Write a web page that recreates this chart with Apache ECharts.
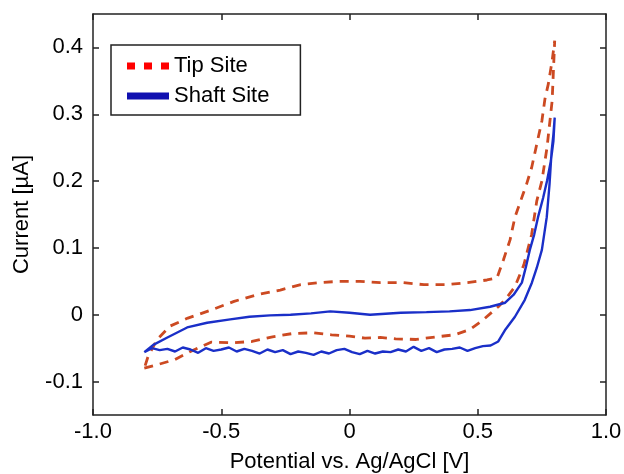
<!DOCTYPE html>
<html>
<head>
<meta charset="utf-8">
<script src="https://cdn.jsdelivr.net/npm/echarts@6/dist/echarts.min.js"></script>
<style>
html,body{margin:0;padding:0;background:#fff;}
#canvas_main{width:624px;height:474px;}
</style>
</head>
<body>
<div id="canvas_main"></div>
<script>
// Tip site (dashed) : forward scan then reverse scan
var tipPotential = [-0.80,-0.76,-0.68,-0.62,-0.54,-0.46,-0.38,-0.30,-0.22,-0.14,-0.07,0.00,0.06,0.12,0.18,0.26,0.34,0.41,0.47,0.52,0.55,0.58,0.61,0.645,0.68,0.71,0.73,0.75,0.77,0.79,0.80,
                    0.79,0.775,0.762,0.75,0.73,0.71,0.69,0.677,0.645,0.626,0.60,0.575,0.536,0.46,0.38,0.29,0.21,0.12,0.04,-0.04,-0.12,-0.19,-0.27,-0.36,-0.45,-0.54,-0.63,-0.70,-0.75,-0.785,-0.80];
var tipCurrent   = [-0.080,-0.076,-0.067,-0.055,-0.041,-0.042,-0.040,-0.033,-0.028,-0.027,-0.030,-0.032,-0.035,-0.034,-0.036,-0.037,-0.033,-0.030,-0.022,-0.008,0.002,0.012,0.024,0.042,0.075,0.120,0.170,0.200,0.250,0.320,0.410,
                    0.380,0.345,0.323,0.290,0.255,0.220,0.195,0.181,0.146,0.112,0.082,0.055,0.052,0.048,0.045,0.045,0.048,0.048,0.050,0.050,0.048,0.045,0.037,0.030,0.020,0.007,-0.005,-0.017,-0.037,-0.062,-0.080];

// Shaft site (solid)
var shaftPotential = [-0.80,-0.77,-0.74,-0.71,-0.68,-0.65,-0.62,-0.59,-0.56,-0.53,-0.50,-0.47,-0.44,-0.41,-0.38,-0.35,-0.32,-0.29,-0.26,-0.23,-0.20,-0.17,-0.14,-0.11,-0.08,-0.05,-0.02,0.01,0.04,0.07,0.10,0.13,0.16,0.19,0.22,0.25,0.28,0.31,0.34,0.37,0.40,0.43,0.46,0.49,0.52,0.55,0.58,0.608,0.645,0.683,0.711,0.73,0.75,0.769,0.78,0.788,0.795,0.80,
                      0.795,0.785,0.77,0.755,0.735,0.72,0.703,0.688,0.672,0.64,0.607,0.548,0.47,0.39,0.30,0.20,0.08,0.00,-0.075,-0.15,-0.23,-0.31,-0.39,-0.465,-0.555,-0.633,-0.71,-0.765,-0.80];
var shaftCurrent   = [-0.056,-0.050,-0.053,-0.051,-0.055,-0.049,-0.052,-0.057,-0.050,-0.054,-0.052,-0.049,-0.055,-0.051,-0.054,-0.058,-0.052,-0.056,-0.053,-0.059,-0.055,-0.057,-0.060,-0.055,-0.058,-0.053,-0.051,-0.056,-0.059,-0.054,-0.058,-0.055,-0.056,-0.052,-0.055,-0.048,-0.054,-0.050,-0.056,-0.052,-0.051,-0.049,-0.054,-0.050,-0.047,-0.046,-0.040,-0.022,-0.003,0.022,0.048,0.070,0.097,0.146,0.196,0.245,0.270,0.295,
                      0.260,0.230,0.200,0.175,0.146,0.120,0.097,0.072,0.048,0.030,0.018,0.012,0.007,0.005,0.004,0.003,0.000,0.003,0.005,0.002,0.000,-0.001,-0.003,-0.007,-0.012,-0.019,-0.034,-0.045,-0.056];

var xTicks = [-1.0, -0.5, 0, 0.5, 1.0];
var yTicks = [-0.1, 0, 0.1, 0.2, 0.3, 0.4];

function pairs(xs, ys) {
	var out = [];
	for (var i = 0; i < xs.length; i++) out.push([xs[i], ys[i]]);
	return out;
}

var FONT = 'Liberation Sans';
var lineCol = '#222';
var FS = 22;

function fmt(v) { return Math.abs(v) < 1e-9 ? '0' : (Math.round(v * 10) / 10).toFixed(1); }

var myChart = echarts.init(document.getElementById('canvas_main'));
var option = {
	animation: false,
	grid: { left: 93, right: 18, top: 14, bottom: 59, outerBoundsMode: 'none' },
	legend: {
		orient: 'vertical',
		left: 111,
		top: 45,
		backgroundColor: '#fff',
		borderColor: '#222',
		borderWidth: 1.5,
		borderRadius: 0,
		padding: [10, 31, 8, 16],
		itemWidth: 42,
		itemHeight: 7,
		itemGap: 8,
		textStyle: { fontFamily: FONT, fontSize: FS, color: '#000' },
		data: [
			{ name: 'Tip Site', icon: 'path://M0,0h8v7h-8zM17,0h8v7h-8zM34,0h8v7h-8z', itemStyle: { color: '#ff0000' } },
			{ name: 'Shaft Site', icon: 'rect', itemStyle: { color: '#1010b0' } }
		]
	},
	xAxis: [{
		type: 'value', min: -1, max: 1,
		axisLine: { onZero: false, lineStyle: { color: lineCol, width: 1.5 } },
		axisTick: { inside: true, length: 6, customValues: xTicks, lineStyle: { color: lineCol, width: 1.5 } },
		axisLabel: { customValues: xTicks, formatter: fmt, fontFamily: FONT, fontSize: FS, color: '#000', margin: 6 },
		splitLine: { show: false },
		name: 'Potential vs. Ag/AgCl [V]', nameLocation: 'middle', nameGap: 36,
		nameTextStyle: { fontFamily: FONT, fontSize: FS, color: '#000' }
	}, {
		type: 'value', min: -1, max: 1, position: 'top',
		axisLine: { onZero: false, lineStyle: { color: lineCol, width: 1.5 } },
		axisTick: { inside: true, length: 6, customValues: xTicks, lineStyle: { color: lineCol, width: 1.5 } },
		axisLabel: { show: false },
		splitLine: { show: false }
	}],
	yAxis: [{
		type: 'value', min: -0.15, max: 0.45,
		axisLine: { onZero: false, lineStyle: { color: lineCol, width: 1.5 } },
		axisTick: { inside: true, length: 6, customValues: yTicks, lineStyle: { color: lineCol, width: 1.5 } },
		axisLabel: { customValues: yTicks, formatter: fmt, fontFamily: FONT, fontSize: FS, color: '#000', margin: 10 },
		splitLine: { show: false },
		name: 'Current [\u00b5A]', nameLocation: 'middle', nameGap: 60,
		nameTextStyle: { fontFamily: FONT, fontSize: FS, color: '#000' }
	}, {
		type: 'value', min: -0.15, max: 0.45, position: 'right',
		axisLine: { onZero: false, lineStyle: { color: lineCol, width: 1.5 } },
		axisTick: { inside: true, length: 6, customValues: yTicks, lineStyle: { color: lineCol, width: 1.5 } },
		axisLabel: { show: false },
		splitLine: { show: false }
	}],
	series: [{
		name: 'Tip Site',
		type: 'line',
		symbol: 'none',
		data: pairs(tipPotential, tipCurrent),
		lineStyle: { color: '#cc4a22', width: 2.8, type: [9, 7] },
		itemStyle: { color: '#cc4a22' }
	}, {
		name: 'Shaft Site',
		type: 'line',
		symbol: 'none',
		data: pairs(shaftPotential, shaftCurrent),
		lineStyle: { color: '#1a2fc8', width: 2.4 },
		itemStyle: { color: '#1a2fc8' }
	}]
};
myChart.setOption(option);
</script>
</body>
</html>
